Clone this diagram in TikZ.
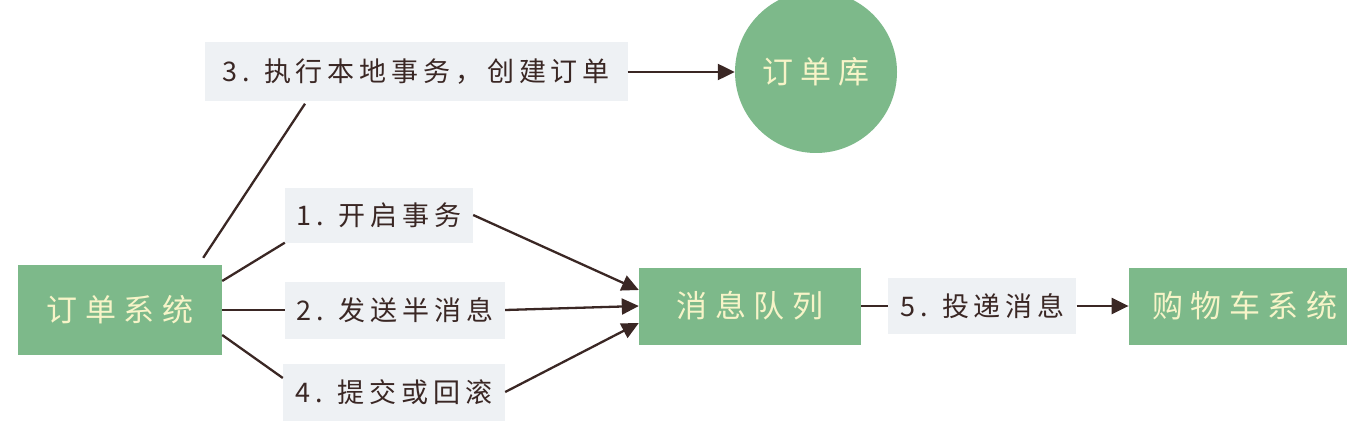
\documentclass[tikz,border=0pt]{standalone}
\usepackage{fontspec}
\newfontfamily\cjk[LetterSpace=18]{Noto Sans CJK SC}
\newfontfamily\cjkbig[LetterSpace=24]{Noto Sans CJK SC}
\usepackage{tikz}
\usetikzlibrary{arrows.meta,positioning}
\definecolor{boxgreen}{HTML}{7DB98A}
\definecolor{labelgray}{HTML}{EEF1F4}
\definecolor{inkbrown}{HTML}{3A2724}
\definecolor{paleyellow}{HTML}{F7F4C8}

\begin{document}
\begin{tikzpicture}[x=1pt,y=-1pt]
		\tikzstyle{system} = [rectangle, minimum width=204pt, minimum height=90pt, 
		inner sep=0pt, text centered, fill=boxgreen, text=paleyellow, font=\cjkbig\fontsize{31}{34}\selectfont]
		\tikzstyle{queue} = [system, minimum width=222pt, minimum height=77pt]
		\tikzstyle{database} = [circle, minimum size=162pt, inner sep=0pt, 
		fill=boxgreen, text=paleyellow, font=\cjkbig\fontsize{31}{34}\selectfont]
		\tikzstyle{stepbox} = [rectangle, minimum height=57pt, inner sep=0pt, 
		text centered, fill=labelgray, text=inkbrown, font=\cjk\fontsize{27}{30}\selectfont]
		\tikzstyle{link} = [draw=inkbrown, line width=2.3pt]
		\tikzstyle{arrow} = [link, -{Triangle[length=17pt,width=16pt]}]
		\useasboundingbox (0,0) rectangle (1347,441);
		\clip (0,0) rectangle (1347,441);
		\node (orderSystem) [system] at (120,310) {订单系统};
		\node (startTx) [stepbox, minimum width=188pt, minimum height=55pt] at (379,215) {1. 开启事务};
		\node (halfMsg) [stepbox, minimum width=220pt] at (395,310) {2. 发送半消息};
		\node (localTx) [stepbox, minimum width=423pt, minimum height=59pt] at (416,72) {3. 执行本地事务，创建订单};
		\node (commit) [stepbox, minimum width=222pt] at (394,392) {4. 提交或回滚};
		\node (orderDb) [database] at (816,72) {订单库};
		\node (msgQueue) [queue] at (750,306) {消息队列};
		\node (deliver) [stepbox, minimum width=188pt, minimum height=56pt, right=27pt of msgQueue] {5. 投递消息};
		\node (cartSystem) [queue, minimum width=232pt, right=52pt of deliver] {购物车系统};
		\draw [link] ([shift={(-19,-7)}]orderSystem.north east) -- ([shift={(-111,2)}]localTx.south);
		\draw [link] ([shift={(0,-29)}]orderSystem.east) -- (startTx.south west);
		\draw [link] (orderSystem.east) -- (halfMsg.west);
		\draw [link] ([shift={(0,25)}]orderSystem.east) -- ([shift={(0,-14)}]commit.west);
		\draw [arrow] (startTx.east) -- ([shift={(0,-16)}]msgQueue.west);
		\draw [arrow] (halfMsg.east) -- (msgQueue.west);
		\draw [arrow] (commit.east) -- ([shift={(0,17)}]msgQueue.west);
		\draw [arrow] (localTx.east) -- (orderDb.west);
		\draw [link] (msgQueue.east) -- (deliver.west);
		\draw [arrow] (deliver.east) -- (cartSystem.west);
		\end{tikzpicture}
\end{document}
